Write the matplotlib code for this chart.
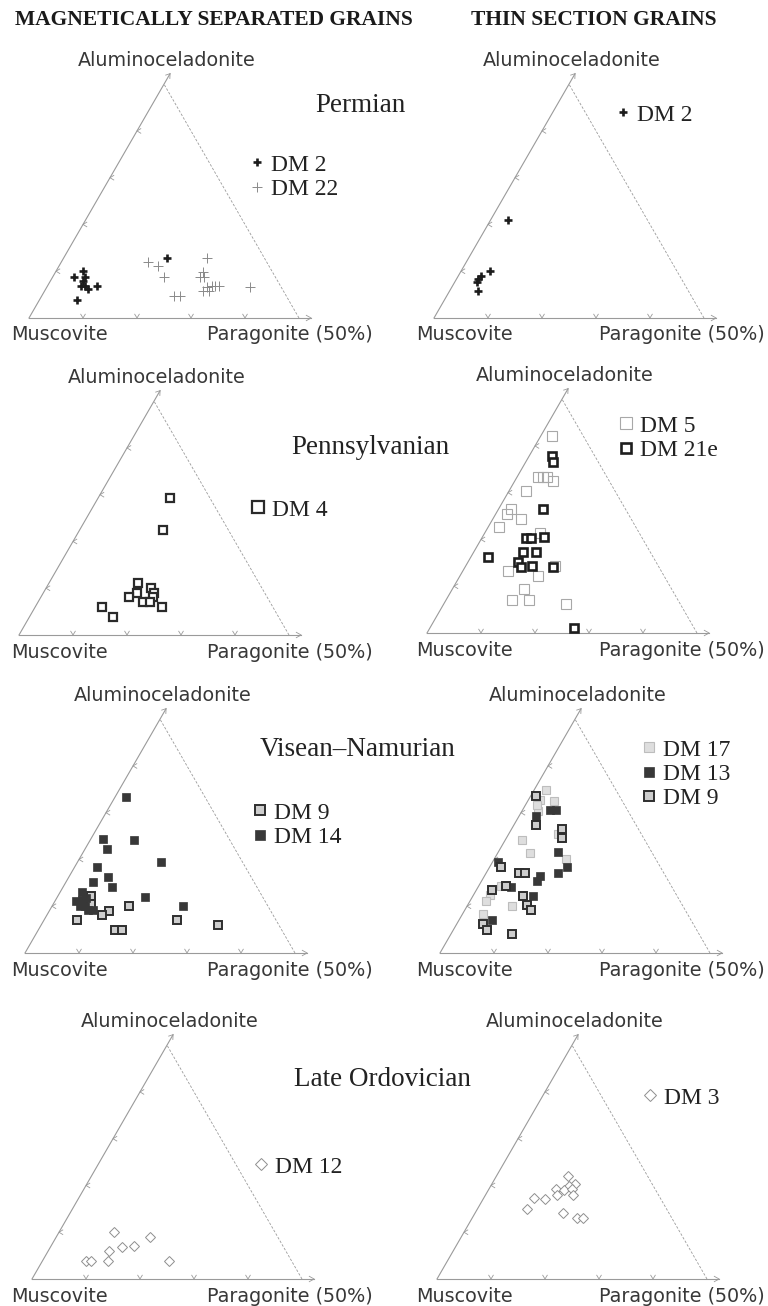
import numpy as np
import matplotlib
matplotlib.use('Agg')
import matplotlib.pyplot as plt

# position of every grain inside the triangle, in % of the diagram
# pg  = share towards the "Paragonite (50%)" corner
# alc = share towards the "Aluminoceladonite" corner (rest is Muscovite)

# Permian
perm_mag_dm2_pg = [7.8, 9.8, 11.9, 12.2, 13.8, 15.8, 18.2, 14.0, 38.3, 12.1]
perm_mag_dm2_alc = [17.7, 20.1, 17.7, 13.8, 13.8, 12.3, 13.7, 7.7, 25.8, 15.8]
perm_mag_dm22_pg = [32.1, 36.6, 41.2, 52.9, 54.4, 54.5, 56.1, 59.1, 60.8, 62.0, 63.6, 58.8, 61.0, 49.1, 51.2, 75.2]
perm_mag_dm22_alc = [24.1, 22.2, 17.7, 25.8, 19.8, 17.7, 17.7, 13.4, 13.8, 13.8, 13.8, 11.5, 11.5, 9.5, 9.5, 13.4]
perm_thin_dm2_pg = [6.5, 10.6, 8.3, 8.1, 8.0, 10.7]
perm_thin_dm2_alc = [41.9, 20.2, 18.0, 16.6, 15.6, 11.5]

# Pennsylvanian
penn_mag_dm4_pg = [26.7, 30.8, 33.0, 38.8, 41.1, 34.8, 32.8, 41.3, 38.8, 41.5, 47.0, 24.6, 31.0]
penn_mag_dm4_alc = [58.5, 44.9, 22.4, 20.0, 17.8, 18.1, 16.1, 16.4, 14.0, 14.0, 11.8, 12.1, 7.8]
penn_thin_dm5_pg = [4.2, 7.8, 9.6, 11.1, 14.3, 6.2, 4.5, 4.3, 10.3, 4.2, 20.6, 16.8, 29.0, 26.7, 24.5, 30.7, 45.3, 33.1]
penn_thin_dm5_alc = [84.3, 66.9, 66.9, 66.9, 65.0, 60.9, 53.0, 50.8, 48.8, 45.2, 42.6, 26.6, 24.5, 18.7, 14.1, 14.1, 12.3, 28.7]
penn_thin_dm21e_pg = [8.3, 10.3, 16.6, 16.4, 18.2, 22.9, 18.4, 22.9, 6.4, 18.3, 20.5, 24.6, 32.6, 53.4]
penn_thin_dm21e_alc = [75.7, 73.0, 53.0, 40.5, 40.5, 40.9, 34.5, 34.8, 32.6, 30.5, 28.4, 28.8, 28.4, 2.0]

# Visean-Namurian
vis_mag_dm14_pg = [4.1, 4.3, 16.2, 8.0, 30.9, 8.3, 14.3, 10.2, 18.3, 7.9, 32.4, 7.9, 9.6, 12.3, 14.2, 16.2, 48.7, 10.9, 10.3]
vis_mag_dm14_alc = [66.7, 48.9, 48.5, 44.5, 38.8, 36.6, 32.6, 30.2, 28.1, 26.3, 24.0, 22.1, 22.8, 19.9, 18.5, 18.2, 19.9, 23.5, 20.2]
vis_mag_dm9_pg = [12.2, 13.8, 22.2, 20.4, 28.6, 12.3, 28.6, 31.2, 49.1, 65.6]
vis_mag_dm9_alc = [24.2, 21.0, 18.1, 16.1, 19.9, 14.2, 9.7, 9.7, 14.2, 12.1]
vis_thin_dm17_pg = [4.3, 4.2, 9.9, 6.0, 4.2, 18.1, 6.1, 12.2, 26.4, 8.3, 6.0, 5.8, 16.4, 7.8]
vis_thin_dm17_alc = [69.6, 65.6, 64.8, 60.9, 63.4, 50.9, 48.5, 42.6, 40.3, 28.5, 24.7, 22.4, 20.2, 16.6]
vis_thin_dm13_pg = [10.1, 12.2, 6.2, 22.3, 28.7, 26.5, 2.0, 20.6, 20.5, 12.2, 22.2, 12.3]
vis_thin_dm13_alc = [61.3, 61.3, 58.7, 43.0, 36.8, 34.2, 38.8, 32.8, 30.6, 28.2, 24.2, 14.2]
vis_thin_dm9_pg = [1.9, 8.1, 18.6, 20.5, 4.2, 12.2, 14.4, 10.0, 5.8, 18.4, 21.8, 24.5, 9.8, 12.3, 22.4]
vis_thin_dm9_alc = [67.0, 54.6, 53.0, 49.2, 36.8, 34.2, 34.2, 28.8, 27.1, 24.5, 20.7, 18.5, 12.5, 10.0, 8.3]

# Late Ordovician
ord_mag_dm12_pg = [20.5, 34.7, 26.4, 30.6, 22.4, 16.2, 18.0, 24.1, 47.0]
ord_mag_dm12_alc = [20.0, 17.8, 13.8, 14.1, 12.0, 7.8, 7.7, 7.8, 7.7]
ord_thin_dm3_pg = [26.3, 30.8, 28.8, 24.8, 28.1, 30.7, 26.5, 32.5, 18.5, 22.9, 18.2, 32.5, 38.7, 41.1]
ord_thin_dm3_alc = [44.2, 40.6, 39.9, 38.5, 38.1, 38.4, 35.9, 35.9, 34.5, 34.2, 29.9, 28.1, 26.0, 26.2]

headers = ['MAGNETICALLY SEPARATED GRAINS', 'THIN SECTION GRAINS']
periods = ['Permian', 'Pennsylvanian', 'Visean\u2013Namurian', 'Late Ordovician']
corners = ['Muscovite', 'Paragonite (50%)', 'Aluminoceladonite']

W, H = 768, 1306
S = 270.0           # triangle side in pixels
h = np.sqrt(3) / 2
GREY = '#9a9a9a'
SERIF = 'Liberation Serif'

STYLES = {
    'cross_dark': dict(marker='+', ms=6, mew=1.9, color='#1c1c1c', ls='none'),
    'cross_light': dict(marker='+', ms=7, mew=0.7, color='#8a8a8a', ls='none'),
    'sq_open_dark': dict(marker='s', ms=6.3, mew=1.6, mec='#2a2a2a', mfc='white', ls='none'),
    'sq_open_light': dict(marker='s', ms=7, mew=0.8, mec='#a8a8a8', mfc='none', ls='none'),
    'sq_open_black': dict(marker='s', ms=5.6, mew=1.9, mec='#1e1e1e', mfc='white', ls='none'),
    'sq_grey_border': dict(marker='s', ms=5.6, mew=1.4, mec='#2e2e2e', mfc='#cdcdcd', ls='none'),
    'sq_dark': dict(marker='s', ms=5.8, mew=0.5, mec='#383838', mfc='#383838', ls='none'),
    'sq_pale': dict(marker='s', ms=5.6, mew=0.8, mec='#bdbdbd', mfc='#dedede', ls='none'),
    'diamond': dict(marker='D', ms=5.0, mew=0.7, mec='#8f8f8f', mfc='white', ls='none'),
}


def tern(pg, alc):
    pg = np.asarray(pg, float) / 100
    alc = np.asarray(alc, float) / 100
    return pg + alc / 2, alc * h


fig = plt.figure(figsize=(W / 100, H / 100), dpi=100)
fig.patch.set_facecolor('white')


def draw_panel(lx, by, col, series, legend_px, mscale=1.25):
    x0, x1, y0, y1 = -0.2, 1.4, -0.15, 1.0
    ax = fig.add_axes([(lx + x0 * S) / W, (H - by + y0 * S) / H,
                       (x1 - x0) * S / W, (y1 - y0) * S / H])
    ax.set_xlim(x0, x1)
    ax.set_ylim(y0, y1)
    ax.axis('off')

    # frame of the triangle
    ext = 0.045
    ax.plot([0, 0.5 + ext / 2], [0, h + ext * h], color=GREY, lw=0.8)
    ax.plot([0, 1 + ext], [0, 0], color=GREY, lw=0.8)
    ax.plot([1, 0.5], [0, h], color=GREY, lw=0.6, ls=(0, (3, 2)))
    a = 0.018
    ax.plot([1 + ext - a, 1 + ext, 1 + ext - a], [a * 0.55, 0, -a * 0.55], color=GREY, lw=0.6)
    tx, ty = 0.5 + ext / 2, h + ext * h
    ax.plot([tx - a * 0.9, tx, tx - a * 0.05], [ty - a * 0.3, ty, ty - a * 1.0], color=GREY, lw=0.6)
    t = 0.014
    for f in [0.2, 0.4, 0.6, 0.8]:
        ax.plot([f - t * 0.6, f, f + t * 0.6], [t, 0, t], color=GREY, lw=0.6)
        ex, ey = f / 2, f * h
        ax.plot([ex + t, ex, ex + t], [ey + t * 0.6, ey, ey - t * 0.6], color=GREY, lw=0.6)

    # corner names
    txt = dict(family='DejaVu Sans', size=13.8, color='#383838', va='center')
    musc_x = [59, 464][col]
    para_x = [290, 682][col]
    ax.text((musc_x - lx) / S, -17 / S, corners[0], ha='center', **txt)
    ax.text((para_x - lx) / S, -17 / S, corners[1], ha='center', **txt)
    ax.text(0.5 + 3 / S, h + 24 / S, corners[2], ha='center', **txt)

    handles, labels = [], []
    for name, pg, alc, style in series:
        xs, ys = tern(pg, alc)
        ln, = ax.plot(xs, ys, **STYLES[style])
        handles.append(ln)
        labels.append(name)

    mx, my = legend_px
    ax.legend(handles, labels, loc='upper left',
              bbox_to_anchor=((mx - lx - 6) / S, (by - my + 13) / S),
              bbox_transform=ax.transData, frameon=False, borderpad=0,
              borderaxespad=0, handlelength=0.5, handletextpad=0.35,
              labelspacing=0.12, markerscale=mscale,
              prop={'family': SERIF, 'size': 17}, labelcolor='#222222')
    return ax


draw_panel(29, 318, 0, [('DM 2', perm_mag_dm2_pg, perm_mag_dm2_alc, 'cross_dark'),
                        ('DM 22', perm_mag_dm22_pg, perm_mag_dm22_alc, 'cross_light')], (257, 167), 1.0)
draw_panel(434, 318, 1, [('DM 2', perm_thin_dm2_pg, perm_thin_dm2_alc, 'cross_dark')], (623, 117), 1.0)
draw_panel(19, 635, 0, [('DM 4', penn_mag_dm4_pg, penn_mag_dm4_alc, 'sq_open_dark')], (258, 512), 1.4)
draw_panel(427, 633, 1, [('DM 5', penn_thin_dm5_pg, penn_thin_dm5_alc, 'sq_open_light'),
                         ('DM 21e', penn_thin_dm21e_pg, penn_thin_dm21e_alc, 'sq_open_black')], (626, 428), 1.3)
draw_panel(25, 953, 0, [('DM 9', vis_mag_dm9_pg, vis_mag_dm9_alc, 'sq_grey_border'),
                        ('DM 14', vis_mag_dm14_pg, vis_mag_dm14_alc, 'sq_dark')], (260, 815), 1.3)
draw_panel(440, 953, 1, [('DM 17', vis_thin_dm17_pg, vis_thin_dm17_alc, 'sq_pale'),
                         ('DM 13', vis_thin_dm13_pg, vis_thin_dm13_alc, 'sq_dark'),
                         ('DM 9', vis_thin_dm9_pg, vis_thin_dm9_alc, 'sq_grey_border')], (649, 752), 1.2)
draw_panel(32, 1279, 0, [('DM 12', ord_mag_dm12_pg, ord_mag_dm12_alc, 'diamond')], (261, 1169), 1.3)
draw_panel(437, 1279, 1, [('DM 3', ord_thin_dm3_pg, ord_thin_dm3_alc, 'diamond')], (650, 1100), 1.3)

# column headers and period names
for label, cx in zip(headers, [214, 594]):
    fig.text(cx / W, 1 - 20 / H, label, ha='center', va='center',
             family=SERIF, weight='bold', size=15.5, color='#1a1a1a')
for label, (cx, cy) in zip(periods, [(360, 106), (370, 447), (358, 749), (382, 1079)]):
    fig.text(cx / W, 1 - cy / H, label, ha='center', va='center',
             family=SERIF, size=19.5, color='#222222')

fig.savefig('out.png', dpi=100, facecolor='white')
